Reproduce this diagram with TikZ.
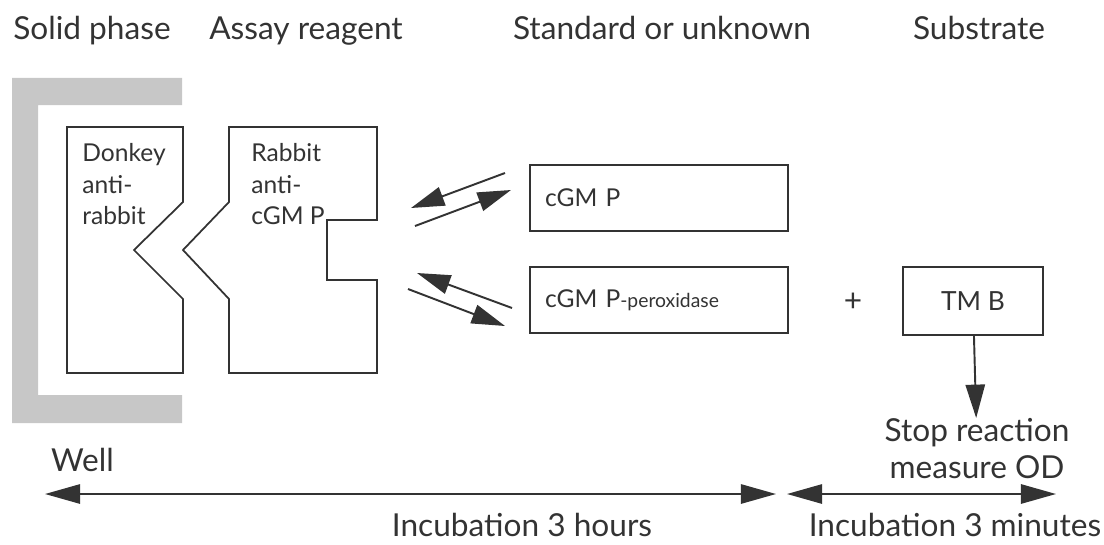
\documentclass[tikz,border=0pt]{standalone}
\usepackage{fontspec}
\setmainfont{Lato}
\usetikzlibrary{arrows.meta}

\begin{document}
\begin{tikzpicture}[
        x=0.02cm,
        y=-0.02cm,
        heading/.style={
            anchor=base,
            text=black!80,
            font=\fontsize{18}{21}\selectfont
        },
        antibody/.style={
            anchor=north west,
            align=left,
            inner sep=0pt,
            text=black!80,
            font=\fontsize{14}{18}\selectfont
        },
        reagent/.style={
            draw=black!80,
            line width=1pt,
            align=left,
            text width=4.56cm,
            inner xsep=0.3cm,
            minimum height=1.32cm,
            text=black!80,
            font=\fontsize{14}{18}\selectfont
        },
        substrate/.style={
            draw=black!80,
            line width=1pt,
            minimum width=2.8cm,
            minimum height=1.36cm,
            text=black!80,
            font=\fontsize{15}{18}\selectfont
        },
        shape line/.style={
            draw=black!80,
            line width=1pt,
            line join=miter
        },
        flow/.style={
            draw=black!80,
            line width=1.1pt,
            -{Triangle[length=19pt,width=11pt]}
        },
        span/.style={
            draw=black!80,
            line width=1.1pt,
            {Triangle[length=20pt,width=11pt]}-{Triangle[length=20pt,width=11pt]}
        }
    ]

        \useasboundingbox (0,0) rectangle (1104,544);

        \node[heading] (solidtitle) at (92,40) {Solid phase};
        \node[heading] (assaytitle) at (306,40) {Assay reagent};
        \node[heading] (standardtitle) at (662,40) {Standard or unknown};
        \node[heading] (substratetitle) at (979,40) {Substrate};

        % well wall
        \fill[black!22]
            (12,78) -- (182,78) -- (182,105) -- (38,105) -- (38,395)
            -- (182,395) -- (182,423) -- (12,423) -- cycle;

        \draw[shape line]
            (67,127) -- (183,127) -- (183,202) -- (134,250)
            -- (183,299) -- (183,373) -- (67,373) -- cycle;

        \draw[shape line]
            (229,127) -- (377,127) -- (377,220) -- (327,220)
            -- (327,280) -- (377,280) -- (377,373) -- (229,373)
            -- (229,299) -- (183,250) -- (229,202) -- cycle;

        \node[antibody] (donkey) at (82,143)
            {Donkey\\anti-\\rabbit};
        \node[antibody] (rabbit) at (251,143)
            {Rabbit\\anti-\\cGM P};

        \node[reagent] (cgmp) at (659,198) {cGM P};
        \node[reagent] (conjugate) at (659,300)
            {cGM P{\fontsize{11}{14}\selectfont -peroxidase}};

        \node[heading, anchor=center] (plus) at (853,302) {+};
        \node[substrate] (tmb) at (973,301) {TM B};

        \node[heading, anchor=north, align=center, inner sep=0pt,
              font=\fontsize{18}{21}\selectfont] (stop) at (977,418)
            {Stop reaction\\measure OD};

        \coordinate (cgmpoff) at (505,173);
        \coordinate (cgmpofftip) at (411,208);
        \coordinate (cgmpon) at (415,226);
        \coordinate (cgmpontip) at (511,190);
        \coordinate (conjoff) at (512,308);
        \coordinate (conjofftip) at (417,273);
        \coordinate (conjon) at (408,289);
        \coordinate (conjontip) at (505,326);

        \draw[flow] (cgmpoff) -- (cgmpofftip);
        \draw[flow] (cgmpon) -- (cgmpontip);
        \draw[flow] (conjoff) -- (conjofftip);
        \draw[flow] (conjon) -- (conjontip);

        \draw[flow] (tmb) -- (stop);

        \node[heading, anchor=base west] (well) at (45,471) {Well};

        \coordinate (longstart) at (45,494);
        \coordinate (longend) at (776,494);
        \coordinate (shortstart) at (787,494);
        \coordinate (shortend) at (1056,494);

        \draw[span] (longstart) -- (longend);
        \draw[span] (shortstart) -- (shortend);

        \node[heading] (hours) at (522,536) {Incubation 3 hours};
        \node[heading] (minutes) at (955,536) {Incubation 3 minutes};

    \end{tikzpicture}
\end{document}
